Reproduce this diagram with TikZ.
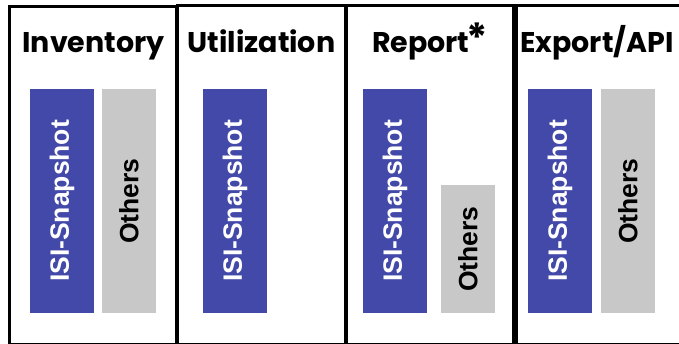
\documentclass[tikz,border=0pt]{standalone}
\usepackage{fontspec}
\setmainfont{Liberation Sans}
\newfontfamily\headfont{Poppins}
\definecolor{isiblue}{HTML}{4349A8}
\definecolor{othergray}{HTML}{C8C8C8}
\tikzset{
  panel/.style={draw, line width=3pt},
  heading/.style={anchor=base, inner sep=0pt, font=\headfont\bfseries\fontsize{28.5}{28.5}\selectfont},
  bar/.style={rotate=90, inner sep=0pt, minimum width=224pt, font=\bfseries\fontsize{26.5}{26.5}\selectfont},
  isibar/.style={bar, fill=isiblue, text=white, minimum height=64pt},
  otherbar/.style={bar, fill=othergray, text=black, minimum height=54pt},
}
\begin{document}
\begin{tikzpicture}[x=1pt, y=-1pt]
\useasboundingbox (0,0) rectangle (679,344);
\clip (0,0) rectangle (679,344);

% panels
\draw[panel] (9,6.5) rectangle (176,344.5);
\draw[panel] (177.5,5.5) rectangle (345,344.5);
\draw[panel] (346,6) rectangle (513,344.5);
\draw[panel] (516,6) rectangle (690,344.5);

% headings
\node[heading] (inv) at (93.5,53) {Inventory};
\node[heading] (util) at (261.5,53) {Utilization};
\node[heading] (rep) at (430,53) {Report\kern-3pt\raisebox{0pt}{\fontsize{40}{40}\selectfont *}};
\node[heading] (exp) at (597,53) {Export/API};

% bars
\node[isibar] (invisi) at (62,201) {ISI-Snapshot};
\node[otherbar] (invoth) at (129,201) {Others};
\node[isibar] (utilisi) at (235,201) {ISI-Snapshot};
\node[isibar] (repisi) at (395,201) {ISI-Snapshot};
\node[otherbar, minimum width=128pt] (repoth) at (468,249) {Others};
\node[isibar] (expisi) at (560,201) {ISI-Snapshot};
\node[otherbar] (expoth) at (628,201) {Others};
\end{tikzpicture}
\end{document}
